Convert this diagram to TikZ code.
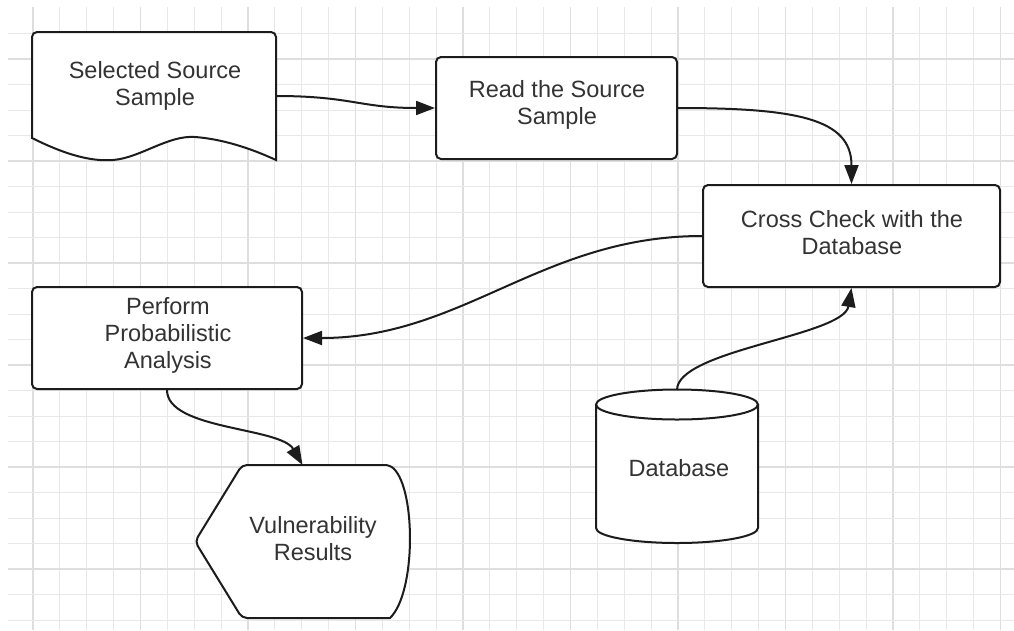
\documentclass[tikz,border=0pt]{standalone}
\usepackage{fontspec}
\setmainfont{Liberation Sans}
\usetikzlibrary{arrows.meta}
\definecolor{gridthin}{HTML}{E8E8E8}
\definecolor{gridthick}{HTML}{DEDEDE}
\definecolor{inkline}{HTML}{1C1C1C}
\definecolor{inktext}{HTML}{333333}
\tikzset{
  shapeline/.style={draw=inkline, line width=2pt, fill=white},
  procbox/.style={shapeline, rounded corners=5pt, inner sep=0pt},
  area/.style={inner sep=0pt, outer sep=0pt},
  label text/.style={text=inktext, align=center, inner sep=0pt,
    font=\fontsize{23.5}{27}\selectfont},
  flow/.style={draw=inkline, line width=2pt,
    -{Triangle[length=19pt,width=14pt]}},
}
\begin{document}
\begin{tikzpicture}[x=1pt,y=-1pt]
\useasboundingbox (0,0) rectangle (1014,630);
\fill[white] (0,0) rectangle (1014,630);

% background grid
\foreach \k in {0,...,36}{
  \pgfmathsetmacro{\gx}{33+26.875*\k}
  \pgfmathtruncatemacro{\major}{mod(\k,4)==0}
  \ifnum\major=1
    \draw[gridthick, line width=1.6pt] (\gx,7) -- (\gx,630);
  \else
    \draw[gridthin, line width=1pt] (\gx,7) -- (\gx,630);
  \fi
}
\foreach \k in {-1,...,22}{
  \pgfmathsetmacro{\gy}{59+25.5*\k}
  \pgfmathtruncatemacro{\major}{mod(\k+8,4)==0}
  \ifnum\major=1
    \draw[gridthick, line width=1.6pt] (8,\gy) -- (1014,\gy);
  \else
    \draw[gridthin, line width=1pt] (8,\gy) -- (1014,\gy);
  \fi
}

% document shape: selected source sample
\node[area, minimum width=244pt, minimum height=128pt] (src) at (154,96) {};
\draw[shapeline] (32,138) -- (32,37) [rounded corners=5pt] -- (32,32) -- (276,32) [sharp corners] -- (276,160)
  .. controls (250,148) and (222,139) .. (195,137)
  .. controls (168,135) and (140,158) .. (113,160)
  .. controls (88,162) and (60,152) .. (32,138) -- cycle;
\node[label text] (srctext) at (155,86) {Selected Source\\Sample};

% process steps
\node[procbox, minimum width=241pt, minimum height=102pt] (read) at (556.5,108) {};
\node[label text] (readtext) at (557,105) {Read the Source\\Sample};

\node[procbox, minimum width=297pt, minimum height=102pt] (cross) at (851.5,236) {};
\node[label text] (crosstext) at (852,233) {Cross Check with the\\Database};

\node[procbox, minimum width=270pt, minimum height=102pt] (perf) at (167,338) {};
\node[label text] (perftext) at (168,335) {Perform\\Probabilistic\\Analysis};

% display shape: vulnerability results
\node[area, minimum width=215pt, minimum height=153pt] (vuln) at (302.5,541.5) {};
\draw[shapeline, rounded corners=5pt] (242,465) -- (390,465)
  [sharp corners] .. controls (416,490) and (416,593) .. (390,618)
  [rounded corners=5pt] -- (242,618) -- (195,541.5) -- cycle;
\node[label text] (vulntext) at (313,539) {Vulnerability\\Results};

% stored data: database
\node[area, minimum width=162pt, minimum height=153pt] (db) at (677,466.5) {};
\draw[shapeline] (596,404.5) -- (596,528) arc[start angle=180, end angle=360, x radius=81pt, y radius=15pt] -- (758,404.5);
\draw[shapeline] (677,404.5) ellipse (81pt and 15pt);
\node[label text] (dbtext) at (679,468) {Database};

% flow connectors
\draw[flow] (src.east) .. controls +(75,0) and +(-75,0) .. (read.west);
\draw[flow] (read.east) .. controls +(120,0) and +(0,-65) .. (cross.north);
\draw[flow] (cross.west) .. controls +(-160,0) and +(160,0) .. (perf.east);
\draw[flow] (db.north) .. controls +(0,-40) and +(-8,48) .. (cross.south);
\draw[flow] (perf.south) .. controls +(0,40) and +(-22,-38) .. (vuln.north);
\end{tikzpicture}
\end{document}
